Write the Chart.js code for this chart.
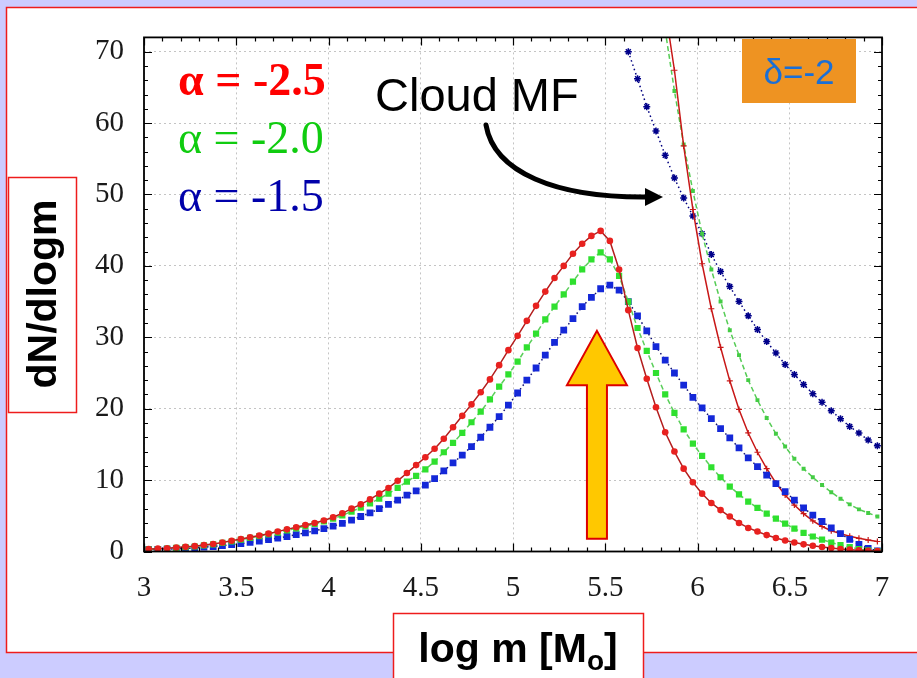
<!DOCTYPE html>
<html>
<head>
<meta charset="utf-8">
<script src="https://cdn.jsdelivr.net/npm/chart.js@4.4.1/dist/chart.umd.min.js"></script>
<style>
  html, body { margin: 0; padding: 0; background: #ccccff; }
  canvas { display: block; }
</style>
</head>
<body>
<canvas id="mf" width="917" height="678"></canvas>
<script>
// bin centres, log m
const logM = [
  3.025, 3.075, 3.125, 3.175, 3.225, 3.275, 3.325, 3.375, 3.425, 3.475,
  3.525, 3.575, 3.625, 3.675, 3.725, 3.775, 3.825, 3.875, 3.925, 3.975,
  4.025, 4.075, 4.125, 4.175, 4.225, 4.275, 4.325, 4.375, 4.425, 4.475,
  4.525, 4.575, 4.625, 4.675, 4.725, 4.775, 4.825, 4.875, 4.925, 4.975,
  5.025, 5.075, 5.125, 5.175, 5.225, 5.275, 5.325, 5.375, 5.425, 5.475,
  5.525, 5.575, 5.625, 5.675, 5.725, 5.775, 5.825, 5.875, 5.925, 5.975,
  6.025, 6.075, 6.125, 6.175, 6.225, 6.275, 6.325, 6.375, 6.425, 6.475,
  6.525, 6.575, 6.625, 6.675, 6.725, 6.775, 6.825, 6.875, 6.925, 6.975
];

// alpha = -2.5
const alphaRed = [
  0.35, 0.4, 0.45, 0.55, 0.65, 0.75, 0.9, 1.05, 1.25, 1.5,
  1.75, 2.0, 2.25, 2.5, 2.8, 3.1, 3.4, 3.7, 4.0, 4.35,
  4.8, 5.35, 6.0, 6.6, 7.3, 8.1, 8.9, 9.9, 11.0, 12.1,
  13.2, 14.4, 15.8, 17.4, 19.0, 20.6, 22.3, 24.1, 26.1, 28.2,
  30.2, 32.3, 34.4, 36.4, 38.3, 40.0, 41.7, 43.1, 44.2, 44.9,
  43.5, 39.5, 33.8, 28.5, 24.2, 20.2, 16.7, 14.0, 11.6, 9.7,
  8.1, 6.8, 5.8, 4.9, 4.0, 3.3, 2.8, 2.3, 1.9, 1.55,
  1.25, 1.0, 0.8, 0.62, 0.48, 0.36, 0.26, 0.18, 0.11, 0.06
];

// alpha = -2.0
const alphaGreen = [
  0.3, 0.35, 0.4, 0.5, 0.6, 0.7, 0.85, 1.0, 1.2, 1.4,
  1.65, 1.9, 2.15, 2.4, 2.65, 2.95, 3.25, 3.55, 3.85, 4.2,
  4.6, 5.05, 5.6, 6.15, 6.75, 7.4, 8.1, 8.9, 9.8, 10.6,
  11.5, 12.6, 13.9, 15.2, 16.6, 18.1, 19.6, 21.3, 23.1, 24.8,
  26.6, 28.6, 30.5, 32.5, 34.3, 36.0, 37.8, 39.5, 40.9, 41.9,
  40.9, 38.6, 35.0, 31.3, 28.1, 25.0, 22.0, 19.4, 17.1, 15.1,
  13.4, 11.8, 10.4, 9.1, 8.0, 7.0, 6.1, 5.3, 4.6, 3.9,
  3.2, 2.6, 2.1, 1.65, 1.25, 0.9, 0.6, 0.35, 0.15, 0.05
];

// alpha = -1.5
const alphaBlue = [
  0.25, 0.28, 0.32, 0.37, 0.43, 0.5, 0.6, 0.7, 0.82, 0.96,
  1.1, 1.27, 1.45, 1.65, 1.87, 2.1, 2.35, 2.62, 2.9, 3.2,
  3.55, 3.95, 4.4, 4.9, 5.4, 6.0, 6.6, 7.2, 7.9, 8.5,
  9.3, 10.2, 11.3, 12.4, 13.5, 14.7, 16.0, 17.4, 18.9, 20.5,
  22.2, 24.0, 25.7, 27.5, 29.3, 31.0, 32.6, 34.3, 35.6, 36.8,
  37.3, 36.6, 35.0, 33.0, 30.9, 28.7, 26.8, 25.0, 23.3, 21.6,
  20.1, 18.6, 17.2, 15.9, 14.5, 13.1, 11.9, 10.7, 9.5, 8.4,
  7.2, 6.1, 5.1, 4.2, 3.3, 2.5, 1.7, 1.0, 0.45, 0.1
];

// cloud mass function
const cloudLogM = [
  5.625, 5.675, 5.725, 5.775, 5.825, 5.875, 5.925, 5.975,
  6.025, 6.075, 6.125, 6.175, 6.225, 6.275, 6.325, 6.375, 6.425, 6.475,
  6.525, 6.575, 6.625, 6.675, 6.725, 6.775, 6.825, 6.875, 6.925, 6.975
];
const cloudRed = [
  null, null, null, null, 76, 67.4, 56.8, 47.9,
  40.3, 34.0, 28.6, 23.9, 19.9, 16.6, 13.9, 11.6, 9.6, 7.9,
  6.5, 5.3, 4.3, 3.5, 2.9, 2.5, 2.15, 1.85, 1.6, 1.4
];
const cloudGreen = [
  null, null, null, null, 73, 64.5, 57.0, 50.5,
  44.5, 39.5, 35.0, 31.0, 27.5, 24.0, 21.2, 18.7, 16.5, 14.7,
  13.0, 11.6, 10.4, 9.3, 8.3, 7.4, 6.6, 5.9, 5.4, 4.9
];
const cloudBlue = [
  70, 66.2, 62.3, 58.9, 55.5, 52.3, 49.5, 47.0,
  44.5, 41.6, 39.2, 37.1, 35.0, 33.0, 31.1, 29.4, 27.8, 26.2,
  24.8, 23.4, 22.1, 20.9, 19.7, 18.6, 17.5, 16.6, 15.6, 14.8
];

const xTicks = [3, 3.5, 4, 4.5, 5, 5.5, 6, 6.5, 7];
const yTicks = [0, 10, 20, 30, 40, 50, 60, 70];

const pts = (xs, ys) => xs.map((x, i) => ({ x: x, y: ys[i] }));

// white panel with the red outline
const pagePlugin = {
  id: 'page',
  beforeDraw(chart) {
    const c = chart.ctx;
    c.save();
    c.fillStyle = '#ccccff';
    c.fillRect(0, 0, chart.width, chart.height);
    c.fillStyle = '#ffffff';
    c.fillRect(6, 7, 940, 645);
    c.strokeStyle = '#ee1c1c';
    c.lineWidth = 1.5;
    c.strokeRect(6.5, 7.5, 940, 645);
    c.restore();
  }
};

// gnuplot style frame with inward ticks on all sides
const framePlugin = {
  id: 'frame',
  afterDatasetsDraw(chart) {
    const c = chart.ctx, a = chart.chartArea;
    const xs = chart.scales.x, ys = chart.scales.y;
    c.save();
    c.strokeStyle = '#000';
    c.lineWidth = 1.2;
    c.beginPath();
    for (let v = 30; v <= 70; v++) {
      const px = Math.round(xs.getPixelForValue(v / 10)) + 0.5;
      const len = v % 5 === 0 ? 8 : 4;
      c.moveTo(px, a.bottom); c.lineTo(px, a.bottom - len);
      c.moveTo(px, a.top); c.lineTo(px, a.top + len);
    }
    for (let v = 0; v <= 70; v += 2) {
      const py = Math.round(ys.getPixelForValue(v)) + 0.5;
      const len = v % 10 === 0 ? 8 : 4;
      c.moveTo(a.left, py); c.lineTo(a.left + len, py);
      c.moveTo(a.right, py); c.lineTo(a.right - len, py);
    }
    c.stroke();
    c.lineWidth = 1.8;
    c.strokeRect(a.left, a.top, a.right - a.left, a.bottom - a.top);
    c.restore();
  }
};

// texts, arrows and label boxes
const notesPlugin = {
  id: 'notes',
  afterDraw(chart) {
    const c = chart.ctx;
    const xs = chart.scales.x, ys = chart.scales.y;
    c.save();

    // legend
    c.textAlign = 'left';
    c.textBaseline = 'alphabetic';
    c.font = 'bold 46px "Liberation Serif"';
    c.fillStyle = '#ff0000';
    c.fillText('α = -2.5', 178, 95);
    c.font = '46px "Liberation Serif"';
    c.fillStyle = '#10cc10';
    c.fillText('α = -2.0', 178, 153);
    c.fillStyle = '#0000aa';
    c.fillText('α = -1.5', 178, 211);

    // cloud MF note and curved arrow
    c.font = '47px "Liberation Sans"';
    c.fillStyle = '#000';
    c.fillText('Cloud MF', 375, 111);
    c.strokeStyle = '#000';
    c.lineWidth = 5;
    c.lineCap = 'round';
    c.beginPath();
    c.moveTo(486, 125);
    c.bezierCurveTo(494, 172, 555, 198, 648, 197);
    c.stroke();
    c.beginPath();
    c.moveTo(663, 197);
    c.lineTo(645, 188);
    c.lineTo(645, 206);
    c.closePath();
    c.fillStyle = '#000';
    c.fill();

    // delta box
    c.fillStyle = '#ee9322';
    c.fillRect(742, 39, 114, 64);
    c.fillStyle = '#1a6fd6';
    c.font = '35px "Liberation Sans"';
    c.textAlign = 'center';
    c.fillText('δ=-2', 799, 84);

    // yellow arrow marking the peak
    const ax = xs.getPixelForValue(5.455);
    const tip = ys.getPixelForValue(30.9);
    const neck = ys.getPixelForValue(23.3);
    const foot = ys.getPixelForValue(1.8);
    c.beginPath();
    c.moveTo(ax, tip);
    c.lineTo(ax + 30, neck);
    c.lineTo(ax + 10, neck);
    c.lineTo(ax + 10, foot);
    c.lineTo(ax - 10, foot);
    c.lineTo(ax - 10, neck);
    c.lineTo(ax - 30, neck);
    c.closePath();
    c.fillStyle = '#ffc800';
    c.fill();
    c.strokeStyle = '#dd0000';
    c.lineWidth = 2;
    c.lineJoin = 'miter';
    c.stroke();

    // axis title boxes
    c.fillStyle = '#fff';
    c.strokeStyle = '#ee1c1c';
    c.lineWidth = 1.5;
    c.fillRect(8, 177, 68, 235);
    c.strokeRect(8.5, 177.5, 68, 235);
    c.fillRect(393, 613, 250, 80);
    c.strokeRect(393.5, 613.5, 250, 80);

    c.fillStyle = '#000';
    c.save();
    c.translate(56, 294);
    c.rotate(-Math.PI / 2);
    c.font = 'bold 41px "Liberation Sans"';
    c.textAlign = 'center';
    c.fillText('dN/dlogm', 0, 0);
    c.restore();

    c.font = 'bold 41px "Liberation Sans"';
    c.textAlign = 'left';
    const t1 = 'log m [M';
    const w1 = c.measureText(t1).width;
    c.font = 'bold 28px "Liberation Sans"';
    const w2 = c.measureText('o').width;
    c.font = 'bold 41px "Liberation Sans"';
    const w3 = c.measureText(']').width;
    const x0 = 518 - (w1 + w2 + w3) / 2;
    c.fillText(t1, x0, 662);
    c.font = 'bold 28px "Liberation Sans"';
    c.fillText('o', x0 + w1, 670);
    c.font = 'bold 41px "Liberation Sans"';
    c.fillText(']', x0 + w1 + w2, 662);

    c.restore();
  }
};

new Chart(document.getElementById('mf'), {
  type: 'line',
  data: {
    datasets: [
      {
        data: pts(logM, alphaRed),
        borderColor: '#b41e1e', borderWidth: 1.5,
        pointStyle: 'circle', pointRadius: 3.3,
        pointBackgroundColor: '#e8211f', pointBorderColor: '#e8211f', pointBorderWidth: 0
      },
      {
        data: pts(logM, alphaGreen),
        borderColor: '#5ccf5c', borderWidth: 1.5, borderDash: [5, 3],
        pointStyle: 'rect', pointRadius: 4.4,
        pointBackgroundColor: '#2fe02f', pointBorderColor: '#2fe02f', pointBorderWidth: 0
      },
      {
        data: pts(logM, alphaBlue),
        borderColor: '#101070', borderWidth: 1.5, borderDash: [1.5, 3],
        pointStyle: 'rect', pointRadius: 4.8,
        pointBackgroundColor: '#1428d8', pointBorderColor: '#1428d8', pointBorderWidth: 0
      },
      {
        data: pts(cloudLogM, cloudRed),
        borderColor: '#c81818', borderWidth: 1.5,
        pointStyle: 'cross', pointRadius: 3,
        pointBorderColor: '#c81818', pointBorderWidth: 1.2
      },
      {
        data: pts(cloudLogM, cloudGreen),
        borderColor: '#55cc55', borderWidth: 1.5, borderDash: [5, 3],
        pointStyle: 'rect', pointRadius: 2.8,
        pointBackgroundColor: '#44cc44', pointBorderColor: '#44cc44', pointBorderWidth: 0
      },
      {
        data: pts(cloudLogM, cloudBlue),
        borderColor: '#000080', borderWidth: 1.5, borderDash: [1.5, 3],
        pointStyle: 'star', pointRadius: 3.5,
        pointBorderColor: '#00008a', pointBorderWidth: 1.5
      }
    ]
  },
  options: {
    responsive: false,
    animation: false,
    layout: { padding: { left: 64, right: 35, top: 28, bottom: 66.5 } },
    plugins: { legend: { display: false }, tooltip: { enabled: false } },
    scales: {
      x: {
        type: 'linear', min: 3, max: 7,
        afterFit: (s) => { s.height = 60; },
        afterBuildTicks: (s) => { s.ticks = xTicks.map(v => ({ value: v })); },
        ticks: {
          callback: (v) => String(v),
          padding: 19,
          color: '#1a1a1a',
          font: { family: 'Liberation Serif', size: 29 }
        },
        grid: { color: '#c4c4c4', lineWidth: 1, drawTicks: false },
        border: { display: false, dash: [2, 3] }
      },
      y: {
        type: 'linear', min: 0, max: 72,
        afterFit: (s) => { s.width = 80; },
        afterBuildTicks: (s) => { s.ticks = yTicks.map(v => ({ value: v })); },
        ticks: {
          padding: 20,
          color: '#1a1a1a',
          font: { family: 'Liberation Serif', size: 29 }
        },
        grid: { color: '#c4c4c4', lineWidth: 1, drawTicks: false },
        border: { display: false, dash: [2, 3] }
      }
    }
  },
  plugins: [pagePlugin, framePlugin, notesPlugin]
});
</script>
</body>
</html>
